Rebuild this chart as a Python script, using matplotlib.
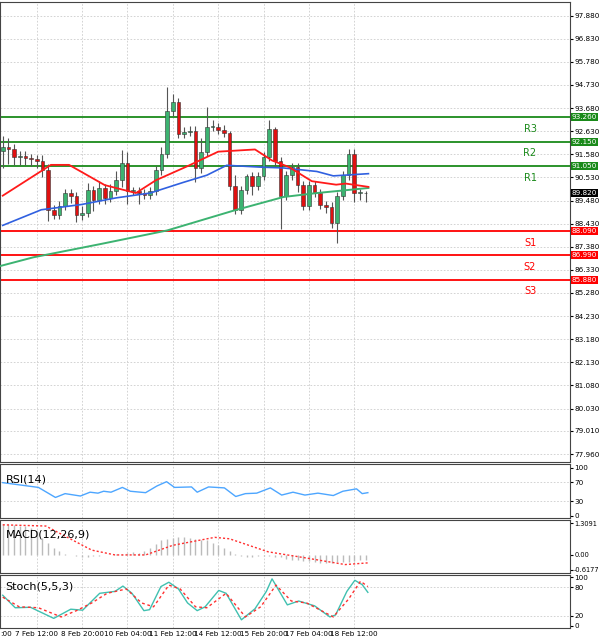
import matplotlib
matplotlib.use("Agg")
import matplotlib.pyplot as plt
import numpy as np

closes = [91.93,91.84,91.48,91.52,91.39,91.35,91.26,90.85,89.06,88.84,89.24,89.82,89.69,88.80,88.93,89.96,89.51,90.05,89.60,89.91,90.41,91.17,89.91,89.91,89.82,89.73,89.91,90.85,91.61,93.54,93.94,92.51,92.60,92.65,90.94,91.70,92.82,92.82,92.70,92.55,90.14,89.06,89.96,90.59,90.14,90.59,91.48,92.73,91.26,89.69,90.63,91.00,90.18,89.24,90.18,89.82,89.28,89.20,88.44,89.69,90.63,91.61,89.82,89.82,89.80]
first_open = 91.75
wick_up = [0.5,0.4,0.2,0.2,0.2,0.2,0.2,0.3,0.3,0.2,0.2,0.2,0.2,0.2,0.3,0.3,0.2,0.3,0.2,0.3,0.4,0.6,0.5,0.2,0.2,0.2,0.2,0.2,0.3,1.1,0.4,0.2,0.2,0.2,0.2,0.6,0.9,0.3,0.2,0.2,0.1,0.5,0.2,0.1,0.2,0.2,0.2,0.4,0.1,0.2,0.2,0.2,0.2,0.2,0.2,0.2,0.2,0.2,0.2,0.2,0.2,0.2,0.2,0.2,0.1]
wick_dn = [0.8,0.7,0.4,0.4,0.3,0.3,0.3,0.3,0.5,0.2,0.2,0.2,0.3,0.3,0.2,0.2,0.5,0.2,0.3,0.2,0.2,0.3,0.6,0.2,0.5,0.2,0.2,0.2,0.2,0.2,0.2,0.2,0.2,0.2,0.6,0.2,0.2,0.2,0.2,0.2,0.2,0.2,0.2,0.2,0.4,0.2,0.2,0.2,0.2,1.5,0.2,0.2,0.3,0.2,0.2,0.2,0.2,0.3,0.2,0.9,0.2,0.2,0.4,0.3,0.4]

ma_fast_idx = [0,8.5,11.7,18,23.5,27,32.5,38,44.5,47.5,50.5,54.5,58.8,60.5,64.5]
ma_fast_val = [89.7,91.1,91.1,90.18,89.82,90.4,91.03,91.7,91.8,91.3,91.0,90.36,90.2,90.25,90.1]
ma_mid_idx = [0,6.8,13.9,20,26,31.8,36,39.5,45.3,49.5,55.4,58.3,64.5]
ma_mid_val = [88.35,89.06,89.3,89.6,89.82,90.3,90.63,91.08,91.0,90.96,90.8,90.6,90.7]
ma_slow_idx = [-0.5,5.4,17.2,29,40.7,49.5,55.4,64.5]
ma_slow_val = [86.5,86.9,87.5,88.12,89.02,89.64,89.82,90.05]

levels = [93.26,92.15,91.05,88.09,86.99,85.88]
level_names = ["R3","R2","R1","S1","S2","S3"]
current = 89.82
price_ticks = [97.880,96.830,95.780,94.730,93.680,92.630,91.580,90.530,89.480,88.430,87.380,86.330,85.280,84.230,83.180,82.130,81.080,80.030,79.010,77.960]

rsi_idx = [0,6.3,9.3,11,13.7,15.4,16.8,17.8,19.1,21.1,22.5,25.2,27.2,28.9,30.3,33.3,34.3,36.3,39.1,41.1,42.8,44.8,47.2,49.2,51.2,53.3,55.6,58.3,60,62.4,63.4,64.4]
rsi_val = [69,59,38,46,41,49,47,51,49,59,51,48,62,71,59,60,49,60,58,40,46,47,58,43,49,43,47,42,51,56,46,48]

macd_hist = [1.3,1.3,1.25,1.2,1.2,1.1,1.0,0.7,0.5,0.3,0.15,0.05,0.0,-0.05,-0.1,-0.1,-0.05,-0.05,-0.02,0.0,0.02,0.05,0.1,0.12,0.1,0.15,0.3,0.45,0.6,0.65,0.7,0.75,0.75,0.7,0.65,0.6,0.6,0.5,0.4,0.3,0.15,0.05,-0.05,-0.1,-0.1,-0.05,-0.05,-0.05,-0.1,-0.1,-0.15,-0.2,-0.2,-0.25,-0.25,-0.3,-0.35,-0.35,-0.35,-0.3,-0.3,-0.3,-0.25,-0.2,-0.2]
macd_sig_idx = [0,7.6,15.7,19.8,25.2,30,37.4,40,46.8,53.6,60.4,64.4]
macd_sig_val = [1.25,1.2,0.2,0.0,0.0,0.4,0.73,0.67,0.13,-0.13,-0.4,-0.33]

st_k_idx = [0,2.2,4.9,9,12,14.1,17.1,19.8,21.2,22.8,24.9,25.9,27.9,29.3,31,32.6,34.3,35.7,38.1,39.4,42.1,44.5,46.5,47.5,50.2,52.2,55,57.7,58.7,60.7,62.1,63.4,64.4]
st_k_val = [63,37,38,15,34,32,67,71,82,67,31,33,81,90,76,47,31,39,73,67,12,35,71,97,43,51,41,18,22,71,94,85,69]
st_d_idx = [0,2.9,6.3,10.3,13,15.7,18.4,21.8,24.5,26.6,29.3,31.3,34,36,39.4,42.8,45.5,48.2,50.9,53.6,58.3,61,63.1,64.4]
st_d_val = [59,39,37,18,31,47,67,76,47,39,84,76,39,37,67,18,39,84,51,47,18,55,92,81]

xtick_idx = [-1.5,6,14,22,30,38,46,54,62]
xtick_lab = ["6 Feb 04:00","7 Feb 12:00","8 Feb 20:00","10 Feb 04:00","11 Feb 12:00","14 Feb 12:00","15 Feb 20:00","17 Feb 04:00","18 Feb 12:00"]

W, H = 600, 640
fig = plt.figure(figsize=(6, 6.4), dpi=100)
XL = (-0.48, (570 - 2.7) / 5.67)
axw = 570 / W
FS = 5.2

def mk(top, bot):
    ax = fig.add_axes([0, 1 - bot / H, axw, (bot - top) / H])
    ax.set_xlim(*XL)
    ax.yaxis.tick_right()
    ax.tick_params(axis="y", labelsize=FS, length=2, pad=1)
    ax.tick_params(axis="x", length=0, labelbottom=False)
    for v in xtick_idx:
        ax.axvline(v, color="#cccccc", lw=0.6, ls=(0, (2, 2)), zorder=0)
    for s in ax.spines.values():
        s.set_color("#444444")
    return ax

ax = mk(2, 462)
ax.set_ylim(77.6, 98.5)
ax.set_yticks(price_ticks)
ax.set_yticklabels([f"{v:.3f}" for v in price_ticks])
for v in price_ticks:
    ax.axhline(v, color="#cccccc", lw=0.6, ls=(0, (2, 2)), zorder=0)

opens = [first_open] + closes[:-1]
for i, (o, c, wu, wd) in enumerate(zip(opens, closes, wick_up, wick_dn)):
    hi = max(o, c) + wu
    lo = min(o, c) - wd
    ax.vlines(i, lo, hi, color="#555555", lw=0.8, zorder=2)
    col = "#3cb371" if c >= o else "#e01010"
    h = max(abs(c - o), 0.04)
    ax.bar(i, h, bottom=min(o, c), width=0.65, color=col, edgecolor="#333333", linewidth=0.4, zorder=3)

ax.plot(ma_slow_idx, ma_slow_val, color="#3cb371", lw=1.4, zorder=4)
ax.plot(ma_mid_idx, ma_mid_val, color="#3060e0", lw=1.2, zorder=4)
ax.plot(ma_fast_idx, ma_fast_val, color="#ff1a1a", lw=1.3, zorder=4)

for lv, nm in zip(levels, level_names):
    col = "#1a8a1a" if nm.startswith("R") else "#ff0000"
    ax.axhline(lv, color=col, lw=1.3, zorder=1)
    ax.text(93, lv - 0.3, nm, color=col, fontsize=7, va="top", ha="center")
    ax.text(1.003, lv, f"{lv:.3f}", transform=ax.get_yaxis_transform(), fontsize=FS,
            color="white", va="center", ha="left", zorder=10,
            bbox=dict(boxstyle="square,pad=0.15", fc=col, ec="none"), clip_on=False)
ax.text(1.003, current, f"{current:.3f}", transform=ax.get_yaxis_transform(), fontsize=FS,
        color="white", va="center", ha="left", zorder=10,
        bbox=dict(boxstyle="square,pad=0.15", fc="black", ec="none"), clip_on=False)

# RSI
a1 = mk(464, 518)
a1.set_ylim(-5, 108)
a1.set_yticks([0, 30, 70, 100])
for v in [30, 70]:
    a1.axhline(v, color="#cccccc", lw=0.6, ls=(0, (2, 2)))
a1.plot(rsi_idx, rsi_val, color="#4da6ff", lw=1)
a1.text(0.01, 0.65, "RSI(14)", transform=a1.transAxes, fontsize=8)

# MACD
a2 = mk(520, 573)
a2.set_ylim(-0.75, 1.45)
a2.set_yticks([1.3091, 0.0, -0.6177])
a2.set_yticklabels(["1.3091", "0.00", "-0.6177"], fontsize=4.8)
a2.vlines(np.arange(len(macd_hist)), 0, macd_hist, color="#bbbbbb", lw=1)
a2.plot(macd_sig_idx, macd_sig_val, color="#ff3030", lw=1, ls=(0, (1.5, 1.5)))
a2.text(0.01, 0.82, "MACD(12,26,9)", transform=a2.transAxes, fontsize=8, va="top")

# Stoch
a3 = mk(575, 628)
a3.set_ylim(-5, 105)
a3.set_yticks([0, 20, 80, 100])
for v in [20, 80]:
    a3.axhline(v, color="#cccccc", lw=0.6, ls=(0, (2, 2)))
a3.plot(st_k_idx, st_k_val, color="#40c0b0", lw=1)
a3.plot(st_d_idx, st_d_val, color="#ff3030", lw=1, ls=(0, (2, 2)))
a3.text(0.01, 0.88, "Stoch(5,5,3)", transform=a3.transAxes, fontsize=8, va="top")
a3.set_xticks(xtick_idx[1:])
a3.set_xticklabels(xtick_lab[1:], fontsize=FS)
a3.tick_params(axis="x", labelbottom=True, pad=2)
a3.text(0.0, -0.06, ":00", transform=a3.transAxes, fontsize=FS, va="top", ha="left")

fig.savefig("out.png", dpi=100)
